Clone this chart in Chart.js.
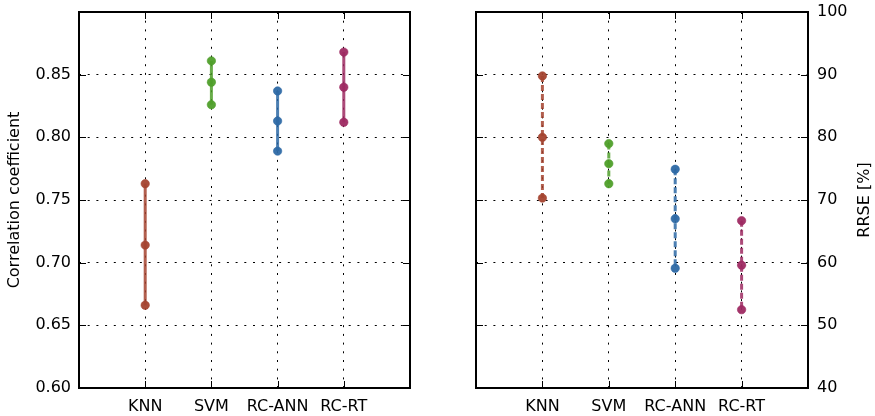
<!DOCTYPE html>
<html>
<head>
<meta charset="utf-8">
<script src="https://cdn.jsdelivr.net/npm/chart.js@4/dist/chart.umd.min.js"></script>
<style>
  body { margin: 0; background: #fff; }
  .box { position: absolute; top: 0; height: 416px; }
</style>
</head>
<body>
<div class="box" style="left:0;width:440px"><canvas id="left"></canvas></div>
<div class="box" style="left:440px;width:435px"><canvas id="right"></canvas></div>
<script>
const categories = ['KNN', 'SVM', 'RC-ANN', 'RC-RT']
const colors = ['#a4432f', '#4f9f2a', '#2d69a5', '#9e2a62']

// correlation coefficient, 3 values per method (top, middle, bottom)
const corrKNN = [0.763, 0.714, 0.666]
const corrSVM = [0.861, 0.844, 0.826]
const corrANN = [0.837, 0.813, 0.789]
const corrRT = [0.868, 0.840, 0.812]

// RRSE [%]
const rrseKNN = [89.8, 80.0, 70.3]
const rrseSVM = [79.0, 75.8, 72.6]
const rrseANN = [74.9, 67.0, 59.1]
const rrseRT = [66.7, 59.6, 52.5]

const corrTicks = [0.60, 0.65, 0.70, 0.75, 0.80, 0.85, 0.90]
const rrseTicks = [40, 50, 60, 70, 80, 90, 100]

const font = { family: 'DejaVu Sans', size: 16 }

function rgba(hex, a) {
  const n = parseInt(hex.slice(1), 16)
  return `rgba(${n >> 16},${(n >> 8) & 255},${n & 255},${a})`
}

function makeSets(series, dash) {
  return series.map((vals, i) => ({
    data: vals.map(v => ({ x: i + 1, y: v })),
    borderColor: rgba(colors[i], 0.85),
    borderWidth: 3,
    borderDash: dash,
    pointBackgroundColor: rgba(colors[i], 0.95),
    pointBorderColor: rgba(colors[i], 0.6),
    pointBorderWidth: 1,
    pointRadius: 4.2,
  }))
}

//cornice e tacche interne
const frame = {
  id: 'frame',
  afterDraw(chart) {
    const { ctx, chartArea: a, scales } = chart
    const line = (x1, y1, x2, y2) => { ctx.beginPath(); ctx.moveTo(x1, y1); ctx.lineTo(x2, y2); ctx.stroke() }
    ctx.save()
    ctx.strokeStyle = '#000'
    ctx.lineWidth = 1
    scales.x.ticks.forEach(t => {
      const px = Math.round(scales.x.getPixelForValue(t.value)) + 0.5
      line(px, a.bottom, px, a.bottom - 7)
      line(px, a.top, px, a.top + 7)
    })
    scales.y.ticks.forEach(t => {
      const py = Math.round(scales.y.getPixelForValue(t.value)) + 0.5
      line(a.left, py, a.left + 7, py)
      line(a.right, py, a.right - 7, py)
    })
    ctx.lineWidth = 2
    ctx.strokeRect(a.left, a.top, a.width, a.height)
    if (chart.options.rightTitle) {
      ctx.fillStyle = '#000'
      ctx.font = '16px "DejaVu Sans"'
      ctx.textAlign = 'center'
      ctx.textBaseline = 'middle'
      ctx.translate(chart.width - 10, (a.top + a.bottom) / 2)
      ctx.rotate(-Math.PI / 2)
      ctx.fillText(chart.options.rightTitle, 0, 0)
    }
    ctx.restore()
  },
}

function xScale() {
  return {
    type: 'linear', min: 0, max: 5,
    afterBuildTicks: ax => { ax.ticks = categories.map((c, i) => ({ value: i + 1 })) },
    afterFit: ax => { ax.height = 28; ax.paddingLeft = 0; ax.paddingRight = 0 },
    ticks: { color: '#000', font, padding: 9, maxRotation: 0, callback: v => categories[v - 1] },
    grid: { color: '#000', lineWidth: 1, drawTicks: false },
    border: { display: false, dash: [2, 6.7] },
  }
}

function yFit(w) {
  return ax => { ax.width = w; ax.paddingTop = 0; ax.paddingBottom = 0 }
}

Chart.defaults.animation = false

new Chart(document.getElementById('left'), {
  type: 'line',
  plugins: [frame],
  data: { datasets: makeSets([corrKNN, corrSVM, corrANN, corrRT], []) },
  options: {
    responsive: true, maintainAspectRatio: false,
    layout: { padding: { top: 12, right: 30, left: 0, bottom: 0 } },
    plugins: { legend: { display: false }, tooltip: { enabled: false } },
    scales: {
      x: xScale(),
      y: {
        type: 'linear', min: 0.6, max: 0.9,
        afterBuildTicks: ax => { ax.ticks = corrTicks.map(v => ({ value: v })) },
        afterFit: yFit(79),
        ticks: { color: '#000', font, padding: 8, callback: v => v >= 0.899 ? '' : v.toFixed(2) },
        grid: { color: '#000', lineWidth: 1, drawTicks: false },
        border: { display: false, dash: [2, 6.7] },
        title: { display: true, text: 'Correlation coefficient', color: '#000', font, padding: { top: 5, bottom: 0 } },
      },
    },
  },
})

new Chart(document.getElementById('right'), {
  type: 'line',
  plugins: [frame],
  data: { datasets: makeSets([rrseKNN, rrseSVM, rrseANN, rrseRT], [6, 3]) },
  options: {
    responsive: true, maintainAspectRatio: false,
    rightTitle: 'RRSE [%]',
    layout: { padding: { top: 12, right: 0, left: 36, bottom: 0 } },
    plugins: { legend: { display: false }, tooltip: { enabled: false } },
    scales: {
      x: xScale(),
      y: {
        type: 'linear', position: 'right', min: 40, max: 100,
        afterBuildTicks: ax => { ax.ticks = rrseTicks.map(v => ({ value: v })) },
        afterFit: yFit(67),
        ticks: { color: '#000', font, padding: 9, callback: v => String(v) },
        grid: { color: '#000', lineWidth: 1, drawTicks: false },
        border: { display: false, dash: [2, 6.7] },
      },
    },
  },
})
</script>
</body>
</html>
